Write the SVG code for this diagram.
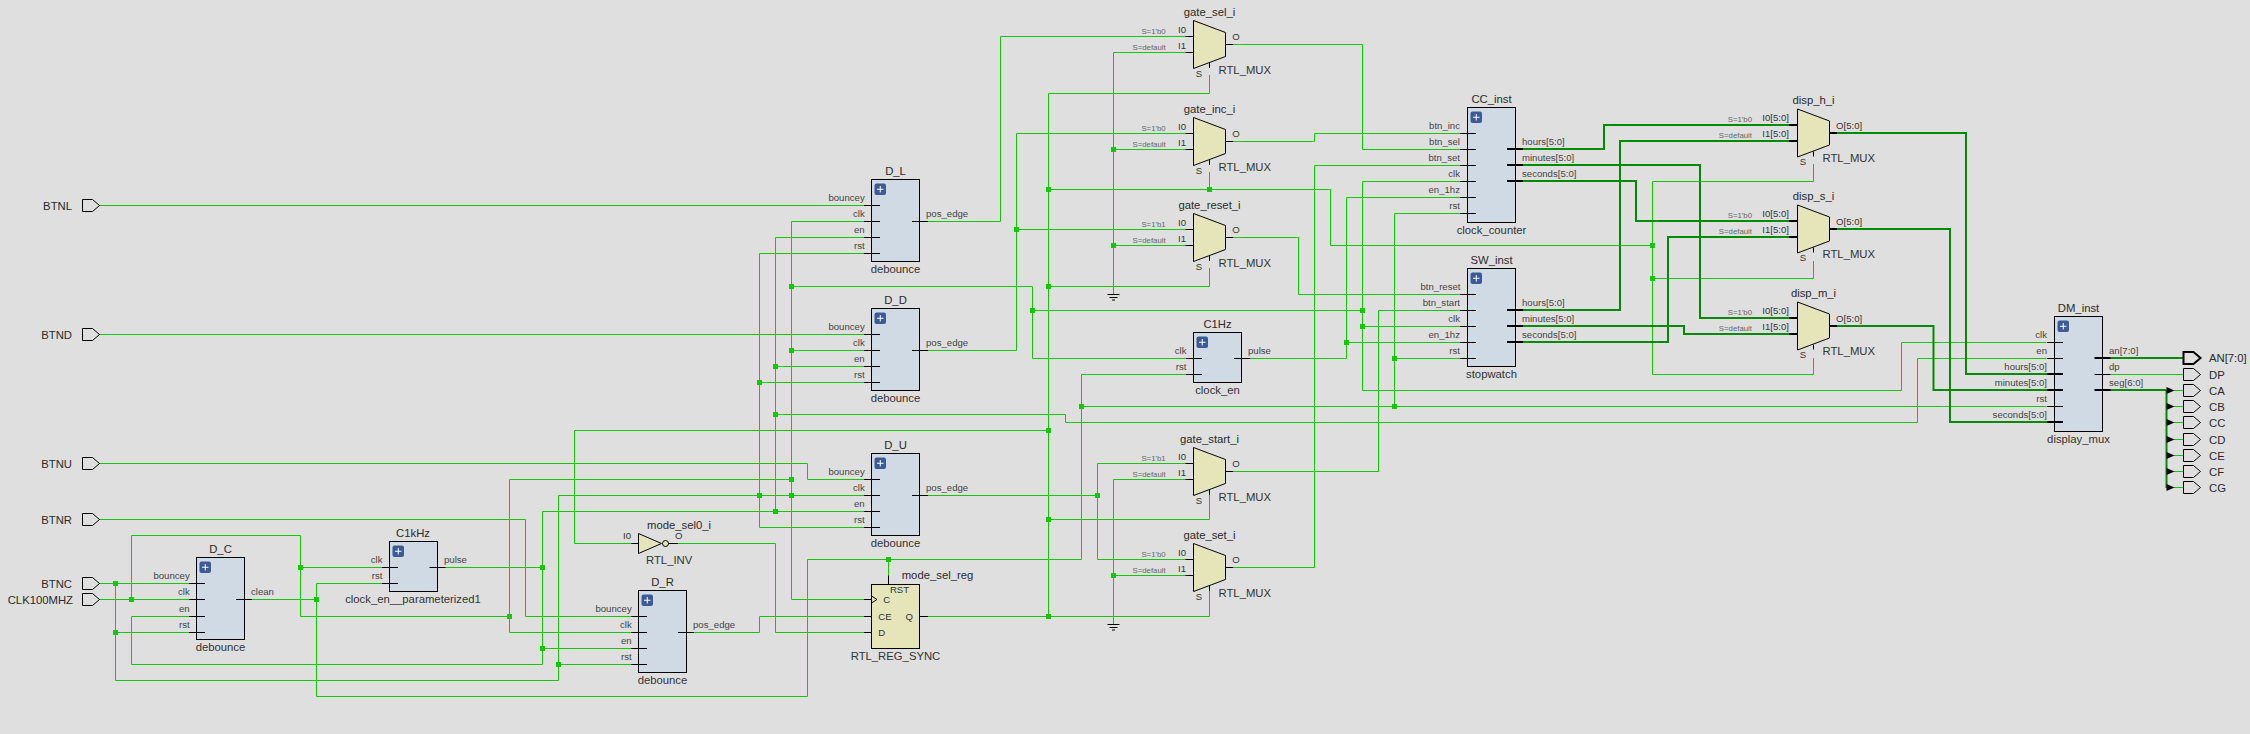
<svg xmlns="http://www.w3.org/2000/svg" xmlns:xlink="http://www.w3.org/1999/xlink" width="2250" height="734" viewBox="0 0 2250 734">
<style>
text{font-family:"Liberation Sans",Arial,sans-serif;fill:#2a2a2a}
.n{font-size:11.3px}
.t{font-size:11.3px;fill:#333}
.p{font-size:9.6px;fill:#444}
.pm{font-size:9.6px;fill:#333}
.s{font-size:7.8px;fill:#666}
.e{text-anchor:end}
.m{text-anchor:middle}
.w{fill:none;stroke:#14c800;stroke-width:1}
.wb{fill:none;stroke:#008c00;stroke-width:2}
.st{fill:none;stroke:#000;stroke-width:1}
.stb{fill:none;stroke:#000;stroke-width:2}
.b{fill:#d0dae5;stroke:#000;stroke-width:1}
.y{fill:#e5e5b9;stroke:#000;stroke-width:1}
.pin{fill:none;stroke:#000;stroke-width:1}
.pinb{fill:none;stroke:#000;stroke-width:2}
.j{fill:#14c800}
</style>
<defs>
<g id="plus"><rect x="0" y="0" width="11.5" height="11.5" rx="2" fill="#3b5a96"/><path d="M5.75 2.5V9M2.5 5.75H9" stroke="#fff" stroke-width="1" fill="none"/></g>
<polygon id="pin" points="0,-6 10,-6 17,0 10,6 0,6"/>
<polygon id="mux" points="0,-16 32,-4 32,20 0,32"/>
<path id="muxs" d="M-8 0H0M-8 16H0M32 8H40M16 26.5V31.5"/>
<path id="gnd" d="M-6 0H6M-4 3H4M-1.5 5.5H1.5" fill="none" stroke="#000" stroke-width="1"/>
<rect id="jn" x="-2.5" y="-2.5" width="5" height="5"/>
<path id="tri" d="M0-3.5L8 0L0 3.5Z" fill="#000"/>
</defs>
<rect x="0" y="0" width="2250" height="734" fill="#dfdfdf"/>

<g id="connectors">
<path class="w" d="M99 205.500H864M99 334.500H864M99 463.500H807.500V479.500H864M99 519.500H525.500V616.500H631"/>
<path class="w" d="M99 583.500H189M115.500 583.500V680.500H558.500V495.500H864M115.500 632.500H189M558.500 664.500H631M864 253.500H759.500V527.500H864M759.500 382.500H864"/>
<path class="w" d="M99 599.500H189M131.500 599.500V535.500H300.500V616.500H509.500M300.500 567.500H382.500M631 632.500H509.500V479.500H791.500M864 221.500H791.500V599.500H871M791.500 286.500H1032.500V358.500H1186.500M1032.500 310.500H1362.500M791.500 350.500H864M1460 181.500H1362.500V390.500H1901.500V342.500H2046.500M1362.500 326.500H1460"/>
<path class="w" d="M252 599.500H316.500M382.500 583.500H316.500V696.500H807.500V559.500H1081.500M888.500 559.500V576M1186.500 374.500H1081.500V559.500M1081.500 406.500H2046.500M1460 213.500H1394.500V406.500M1394.500 358.500H1460"/>
<path class="w" d="M445 567.500H542.500M864 511.500H542.500V664.500H131.500V616.500H189M542.500 648.500H631M864 237.500H775.500V511.500M775.500 366.500H864M775.500 414.500H1065.500V422.500H1917.500V358.500H2046.500"/>
<path class="w" d="M928 221.500H1000.500V36.500H1186M928 350.500H1016.500V133.500H1186M1016.500 229.500H1186M928 495.500H1097.500M1186 463.500H1097.500V559.500H1186"/>
<path class="w" d="M694 632.500H759.500V616.500H864M631 543.500H574.500V430.500H1048.500M678 543.500H775.500V632.500H864"/>
<path class="w" d="M928 616.500H1209.500V591M1209.500 75V93.500H1048.500V616.500M1048.500 189.500H1330.500V245.500H1652.500M1209.500 189.500V172M1048.500 286.500H1209.500V268M1048.500 519.500H1209.500V495"/>
<path class="w" d="M1813.500 164V181.500H1652.500V374.500H1813.500V358M1652.500 278.500H1813.500V261"/>
<path class="w" d="M1186 52.500H1113.500V294M1113.500 149.500H1186M1113.500 245.500H1186M1186 479.500H1113.500V624M1113.500 575.500H1186"/>
<path class="w" d="M1234 44.500H1362.500V149.500H1460M1234 141.500H1314.500V133.500H1460M1234 237.500H1298.500V294.500H1460M1234 471.500H1378.500V310.500H1460M1234 567.500H1314.500V165.500H1460M1250 358.500H1346.500V197.500H1460M1346.500 342.500H1460"/>
<path class="w" d="M2110.500 374.500H2184M2174 390.500H2184M2174 406.500H2184M2174 422.500H2184M2174 439.500H2184M2174 455.500H2184M2174 471.500H2184M2174 487.500H2184"/>
<path class="wb" d="M1522 149H1604V125H1790M1522 165H1700V318H1790M1522 181H1636V221H1790M1522 310H1620V141H1790M1522 326H1684V334H1790M1522 342H1668V237H1790"/>
<path class="wb" d="M1836 133H1966V374H2048M1836 229H1950V422H2048M1836 326H1933.500V390H2048"/>
<path class="wb" d="M2110 358H2184M2110 390H2166.500M2166.500 390V488"/>
<g class="j">
<use href="#jn" x="115.500" y="583.500"/><use href="#jn" x="115.500" y="632.500"/><use href="#jn" x="131.500" y="599.500"/><use href="#jn" x="300.500" y="567.500"/><use href="#jn" x="316.500" y="599.500"/><use href="#jn" x="509.500" y="616.500"/><use href="#jn" x="542.500" y="567.500"/><use href="#jn" x="542.500" y="648.500"/><use href="#jn" x="558.500" y="664.500"/>
<use href="#jn" x="791.500" y="286.500"/><use href="#jn" x="791.500" y="350.500"/><use href="#jn" x="791.500" y="479.500"/><use href="#jn" x="791.500" y="495.500"/><use href="#jn" x="775.500" y="366.500"/><use href="#jn" x="775.500" y="414.500"/><use href="#jn" x="775.500" y="511.500"/><use href="#jn" x="759.500" y="382.500"/><use href="#jn" x="759.500" y="495.500"/>
<use href="#jn" x="888.500" y="559.500"/><use href="#jn" x="1016.500" y="229.500"/><use href="#jn" x="1032.500" y="310.500"/><use href="#jn" x="1048.500" y="189.500"/><use href="#jn" x="1048.500" y="286.500"/><use href="#jn" x="1048.500" y="430.500"/><use href="#jn" x="1048.500" y="519.500"/><use href="#jn" x="1048.500" y="616.500"/><use href="#jn" x="1081.500" y="406.500"/><use href="#jn" x="1097.500" y="495.500"/>
<use href="#jn" x="1113.500" y="149.500"/><use href="#jn" x="1113.500" y="245.500"/><use href="#jn" x="1113.500" y="575.500"/><use href="#jn" x="1209.500" y="189.500"/><use href="#jn" x="1346.500" y="342.500"/><use href="#jn" x="1362.500" y="310.500"/><use href="#jn" x="1362.500" y="326.500"/><use href="#jn" x="1394.500" y="358.500"/><use href="#jn" x="1394.500" y="406.500"/><use href="#jn" x="1652.500" y="245.500"/><use href="#jn" x="1652.500" y="278.500"/>
</g>
</g>

<g id="gnd1"><use href="#gnd" x="1113.500" y="294.500"/></g>
<g id="gnd2"><use href="#gnd" x="1113.500" y="624.500"/></g>

<g id="port_BTNL"><use href="#pin" class="pin" x="82.500" y="205.500"/><text class="n e" x="72" y="209.500">BTNL</text></g>
<g id="port_BTND"><use href="#pin" class="pin" x="82.500" y="334.500"/><text class="n e" x="72" y="338.500">BTND</text></g>
<g id="port_BTNU"><use href="#pin" class="pin" x="82.500" y="463.500"/><text class="n e" x="72" y="467.500">BTNU</text></g>
<g id="port_BTNR"><use href="#pin" class="pin" x="82.500" y="519.500"/><text class="n e" x="72" y="523.500">BTNR</text></g>
<g id="port_BTNC"><use href="#pin" class="pin" x="82.500" y="583.500"/><text class="n e" x="72" y="587.500">BTNC</text></g>
<g id="port_CLK100MHZ"><use href="#pin" class="pin" x="82.500" y="599.500"/><text class="n e" x="73" y="603.500">CLK100MHZ</text></g>

<g id="port_AN"><use href="#pin" class="pinb" x="2183.500" y="358"/><text class="n" x="2209" y="362">AN[7:0]</text></g>
<g id="port_DP"><use href="#pin" class="pin" x="2183.500" y="374.500"/><text class="n" x="2209" y="378.500">DP</text></g>
<g id="port_CA"><use href="#tri" x="2166.500" y="390.500"/><use href="#pin" class="pin" x="2183.500" y="390.500"/><text class="n" x="2209" y="394.500">CA</text></g>
<g id="port_CB"><use href="#tri" x="2166.500" y="406.500"/><use href="#pin" class="pin" x="2183.500" y="406.500"/><text class="n" x="2209" y="410.500">CB</text></g>
<g id="port_CC"><use href="#tri" x="2166.500" y="422.500"/><use href="#pin" class="pin" x="2183.500" y="422.500"/><text class="n" x="2209" y="426.500">CC</text></g>
<g id="port_CD"><use href="#tri" x="2166.500" y="439.500"/><use href="#pin" class="pin" x="2183.500" y="439.500"/><text class="n" x="2209" y="443.500">CD</text></g>
<g id="port_CE"><use href="#tri" x="2166.500" y="455.500"/><use href="#pin" class="pin" x="2183.500" y="455.500"/><text class="n" x="2209" y="459.500">CE</text></g>
<g id="port_CF"><use href="#tri" x="2166.500" y="471.500"/><use href="#pin" class="pin" x="2183.500" y="471.500"/><text class="n" x="2209" y="475.500">CF</text></g>
<g id="port_CG"><use href="#tri" x="2166.500" y="487.500"/><use href="#pin" class="pin" x="2183.500" y="487.500"/><text class="n" x="2209" y="491.500">CG</text></g>

<g id="D_L"><rect class="b" x="871.500" y="179.500" width="48" height="82"/><use href="#plus" x="874.500" y="183.500"/><path class="st" d="M864 205.500H880M864 221.500H880M864 237.500H880M864 253.500H880M912 221.500H928"/>
<text class="n m" x="895.500" y="175">D_L</text><text class="t m" x="895.500" y="273">debounce</text>
<text class="p e" x="864.700" y="201">bouncey</text><text class="p e" x="864.700" y="217">clk</text><text class="p e" x="864.700" y="233">en</text><text class="p e" x="864.700" y="249">rst</text><text class="p" x="926" y="217">pos_edge</text></g>

<g id="D_D"><rect class="b" x="871.500" y="308.500" width="48" height="82"/><use href="#plus" x="874.500" y="312.500"/><path class="st" d="M864 334.500H880M864 350.500H880M864 366.500H880M864 382.500H880M912 350.500H928"/>
<text class="n m" x="895.500" y="304">D_D</text><text class="t m" x="895.500" y="402">debounce</text>
<text class="p e" x="864.700" y="330">bouncey</text><text class="p e" x="864.700" y="346">clk</text><text class="p e" x="864.700" y="362">en</text><text class="p e" x="864.700" y="378">rst</text><text class="p" x="926" y="346">pos_edge</text></g>

<g id="D_U"><rect class="b" x="871.500" y="453.500" width="48" height="82"/><use href="#plus" x="874.500" y="457.500"/><path class="st" d="M864 479.500H880M864 495.500H880M864 511.500H880M864 527.500H880M912 495.500H928"/>
<text class="n m" x="895.500" y="449">D_U</text><text class="t m" x="895.500" y="547">debounce</text>
<text class="p e" x="864.700" y="475">bouncey</text><text class="p e" x="864.700" y="491">clk</text><text class="p e" x="864.700" y="507">en</text><text class="p e" x="864.700" y="523">rst</text><text class="p" x="926" y="491">pos_edge</text></g>

<g id="D_R"><rect class="b" x="638.500" y="590.500" width="48" height="82"/><use href="#plus" x="641.500" y="594.500"/><path class="st" d="M631 616.500H647M631 632.500H647M631 648.500H647M631 664.500H647M678 632.500H694"/>
<text class="n m" x="662.500" y="586">D_R</text><text class="t m" x="662.500" y="684">debounce</text>
<text class="p e" x="631.700" y="612">bouncey</text><text class="p e" x="631.700" y="628">clk</text><text class="p e" x="631.700" y="644">en</text><text class="p e" x="631.700" y="660">rst</text><text class="p" x="693" y="628">pos_edge</text></g>

<g id="D_C"><rect class="b" x="196.500" y="557.500" width="48" height="82"/><use href="#plus" x="199.500" y="561.500"/><path class="st" d="M189 583.500H205M189 599.500H205M189 616.500H205M189 632.500H205M236 599.500H252"/>
<text class="n m" x="220.500" y="553">D_C</text><text class="t m" x="220.500" y="651">debounce</text>
<text class="p e" x="189.700" y="579">bouncey</text><text class="p e" x="189.700" y="595">clk</text><text class="p e" x="189.700" y="612">en</text><text class="p e" x="189.700" y="628">rst</text><text class="p" x="251" y="595">clean</text></g>

<g id="C1kHz"><rect class="b" x="389.500" y="541.500" width="48" height="50"/><use href="#plus" x="392.500" y="545.500"/><path class="st" d="M382 567.500H398M382 583.500H398M429.500 567.500H445.500"/>
<text class="n m" x="413" y="537">C1kHz</text><text class="t m" x="413" y="603">clock_en__parameterized1</text>
<text class="p e" x="382.500" y="563">clk</text><text class="p e" x="382.500" y="579">rst</text><text class="p" x="444" y="563">pulse</text></g>

<g id="C1Hz"><rect class="b" x="1193.500" y="332.500" width="48" height="50"/><use href="#plus" x="1196.500" y="336.500"/><path class="st" d="M1186 358.500H1202M1186 374.500H1202M1234 358.500H1250"/>
<text class="n m" x="1217.500" y="328">C1Hz</text><text class="t m" x="1217.500" y="394">clock_en</text>
<text class="p e" x="1186.500" y="354">clk</text><text class="p e" x="1186.500" y="370">rst</text><text class="p" x="1248" y="354">pulse</text></g>

<g id="CC_inst"><rect class="b" x="1467.500" y="107.500" width="48" height="115"/><use href="#plus" x="1470.500" y="111.500"/><path class="st" d="M1460 133.500H1476M1460 149.500H1476M1460 165.500H1476M1460 181.500H1476M1460 197.500H1476M1460 213.500H1476"/><path class="stb" d="M1507 149H1523M1507 165H1523M1507 181H1523"/>
<text class="n m" x="1491.500" y="103">CC_inst</text><text class="t m" x="1491.500" y="234">clock_counter</text>
<text class="p e" x="1460" y="129">btn_inc</text><text class="p e" x="1460" y="145">btn_sel</text><text class="p e" x="1460" y="161">btn_set</text><text class="p e" x="1460" y="177">clk</text><text class="p e" x="1460" y="193">en_1hz</text><text class="p e" x="1460" y="209">rst</text>
<text class="p" x="1522" y="145">hours[5:0]</text><text class="p" x="1522" y="161">minutes[5:0]</text><text class="p" x="1522" y="177">seconds[5:0]</text></g>

<g id="SW_inst"><rect class="b" x="1467.500" y="268.500" width="48" height="98"/><use href="#plus" x="1470.500" y="272.500"/><path class="st" d="M1460 294.500H1476M1460 310.500H1476M1460 326.500H1476M1460 342.500H1476M1460 358.500H1476"/><path class="stb" d="M1507 310H1523M1507 326H1523M1507 342H1523"/>
<text class="n m" x="1491.500" y="264">SW_inst</text><text class="t m" x="1491.500" y="378">stopwatch</text>
<text class="p e" x="1460.500" y="290">btn_reset</text><text class="p e" x="1460" y="306">btn_start</text><text class="p e" x="1460" y="322">clk</text><text class="p e" x="1460" y="338">en_1hz</text><text class="p e" x="1460" y="354">rst</text>
<text class="p" x="1522" y="306">hours[5:0]</text><text class="p" x="1522" y="322">minutes[5:0]</text><text class="p" x="1522" y="338">seconds[5:0]</text></g>

<g id="DM_inst"><rect class="b" x="2054.500" y="316.500" width="48" height="115"/><use href="#plus" x="2057.500" y="320.500"/><path class="st" d="M2047 342.500H2063M2047 358.500H2063M2047 406.500H2063M2094.500 374.500H2110.500"/><path class="stb" d="M2047 374H2063M2047 390H2063M2047 422H2063M2094.500 358H2110.500M2094.500 390H2110.500"/>
<text class="n m" x="2078.500" y="312">DM_inst</text><text class="t m" x="2078.500" y="443">display_mux</text>
<text class="p e" x="2047" y="338">clk</text><text class="p e" x="2047" y="354">en</text><text class="p e" x="2047" y="370">hours[5:0]</text><text class="p e" x="2047" y="386">minutes[5:0]</text><text class="p e" x="2047" y="402">rst</text><text class="p e" x="2047" y="418">seconds[5:0]</text>
<text class="p" x="2109" y="354">an[7:0]</text><text class="p" x="2109" y="370">dp</text><text class="p" x="2109" y="386">seg[6:0]</text></g>

<g id="gate_sel_i"><use href="#mux" class="y" x="1193.500" y="36.500"/><use href="#muxs" class="st" x="1193.500" y="36.500"/>
<text class="n m" x="1209.500" y="15.500">gate_sel_i</text><text class="s e" x="1165.700" y="33.500">S=1'b0</text><text class="s e" x="1165.700" y="49.500">S=default</text><text class="pm e" x="1186" y="32.500">I0</text><text class="pm e" x="1186" y="48.500">I1</text><text class="pm" x="1232.300" y="40">O</text><text class="pm m" x="1199" y="76.500">S</text><text class="t" x="1218.500" y="73.500">RTL_MUX</text></g>

<g id="gate_inc_i"><use href="#mux" class="y" x="1193.500" y="133.500"/><use href="#muxs" class="st" x="1193.500" y="133.500"/>
<text class="n m" x="1209.500" y="112.500">gate_inc_i</text><text class="s e" x="1165.700" y="130.500">S=1'b0</text><text class="s e" x="1165.700" y="146.500">S=default</text><text class="pm e" x="1186" y="129.500">I0</text><text class="pm e" x="1186" y="145.500">I1</text><text class="pm" x="1232.300" y="137">O</text><text class="pm m" x="1199" y="173.500">S</text><text class="t" x="1218.500" y="170.500">RTL_MUX</text></g>

<g id="gate_reset_i"><use href="#mux" class="y" x="1193.500" y="229.500"/><use href="#muxs" class="st" x="1193.500" y="229.500"/>
<text class="n m" x="1209.500" y="208.500">gate_reset_i</text><text class="s e" x="1165.700" y="226.500">S=1'b1</text><text class="s e" x="1165.700" y="242.500">S=default</text><text class="pm e" x="1186" y="225.500">I0</text><text class="pm e" x="1186" y="241.500">I1</text><text class="pm" x="1232.300" y="233">O</text><text class="pm m" x="1199" y="269.500">S</text><text class="t" x="1218.500" y="266.500">RTL_MUX</text></g>

<g id="gate_start_i"><use href="#mux" class="y" x="1193.500" y="463.500"/><use href="#muxs" class="st" x="1193.500" y="463.500"/>
<text class="n m" x="1209.500" y="442.500">gate_start_i</text><text class="s e" x="1165.700" y="460.500">S=1'b1</text><text class="s e" x="1165.700" y="476.500">S=default</text><text class="pm e" x="1186" y="459.500">I0</text><text class="pm e" x="1186" y="475.500">I1</text><text class="pm" x="1232.300" y="467">O</text><text class="pm m" x="1199" y="503.500">S</text><text class="t" x="1218.500" y="500.500">RTL_MUX</text></g>

<g id="gate_set_i"><use href="#mux" class="y" x="1193.500" y="559.500"/><use href="#muxs" class="st" x="1193.500" y="559.500"/>
<text class="n m" x="1209.500" y="538.500">gate_set_i</text><text class="s e" x="1165.700" y="556.500">S=1'b0</text><text class="s e" x="1165.700" y="572.500">S=default</text><text class="pm e" x="1186" y="555.500">I0</text><text class="pm e" x="1186" y="571.500">I1</text><text class="pm" x="1232.300" y="563">O</text><text class="pm m" x="1199" y="599.500">S</text><text class="t" x="1218.500" y="596.500">RTL_MUX</text></g>

<g id="disp_h_i"><use href="#mux" class="y" x="1797.500" y="125"/><path class="stb" d="M1789 125H1797.500M1789 141H1797.500M1829.500 133H1837"/><path class="st" d="M1813.500 151.500V156.500"/>
<text class="n m" x="1813.500" y="104">disp_h_i</text><text class="s e" x="1752" y="122">S=1'b0</text><text class="s e" x="1752" y="138">S=default</text><text class="pm e" x="1789" y="121">I0[5:0]</text><text class="pm e" x="1789" y="137">I1[5:0]</text><text class="pm" x="1836" y="129">O[5:0]</text><text class="pm m" x="1803" y="165">S</text><text class="t" x="1822.500" y="162">RTL_MUX</text></g>

<g id="disp_s_i"><use href="#mux" class="y" x="1797.500" y="221"/><path class="stb" d="M1789 221H1797.500M1789 237H1797.500M1829.500 229H1837"/><path class="st" d="M1813.500 247.500V252.500"/>
<text class="n m" x="1813.500" y="200">disp_s_i</text><text class="s e" x="1752" y="218">S=1'b0</text><text class="s e" x="1752" y="234">S=default</text><text class="pm e" x="1789" y="217">I0[5:0]</text><text class="pm e" x="1789" y="233">I1[5:0]</text><text class="pm" x="1836" y="225">O[5:0]</text><text class="pm m" x="1803" y="261">S</text><text class="t" x="1822.500" y="258">RTL_MUX</text></g>

<g id="disp_m_i"><use href="#mux" class="y" x="1797.500" y="318"/><path class="stb" d="M1789 318H1797.500M1789 334H1797.500M1829.500 326H1837"/><path class="st" d="M1813.500 344.500V349.500"/>
<text class="n m" x="1813.500" y="297">disp_m_i</text><text class="s e" x="1752" y="315">S=1'b0</text><text class="s e" x="1752" y="331">S=default</text><text class="pm e" x="1789" y="314">I0[5:0]</text><text class="pm e" x="1789" y="330">I1[5:0]</text><text class="pm" x="1836" y="322">O[5:0]</text><text class="pm m" x="1803" y="358">S</text><text class="t" x="1822.500" y="355">RTL_MUX</text></g>

<g id="mode_sel0_i"><polygon class="y" points="638.500,533.500 661.500,543.500 638.500,553.500"/><circle class="y" cx="665.500" cy="543.500" r="3"/><path class="st" d="M631 543.500H638.500M668.500 543.500H678"/>
<text class="n m" x="679" y="529">mode_sel0_i</text><text class="pm e" x="631" y="539">I0</text><text class="pm m" x="678.700" y="539">O</text><text class="t" x="646" y="564">RTL_INV</text></g>

<g id="mode_sel_reg"><rect class="y" x="871.500" y="584.500" width="48" height="64"/><path class="st" d="M864 599.500H872M871.500 596L877 599.500L871.500 603M864 616.500H871.500M864 632.500H871.500M919.500 616.500H928M888.500 575.500V584.500"/>
<text class="n" x="901.700" y="579">mode_sel_reg</text><text class="t m" x="895.500" y="660">RTL_REG_SYNC</text>
<text class="pm m" x="899.500" y="593">RST</text><text class="pm" x="883.300" y="603">C</text><text class="pm" x="878.300" y="619.500">CE</text><text class="pm" x="878.300" y="635.500">D</text><text class="pm e" x="913" y="619.500">Q</text></g>
</svg>
